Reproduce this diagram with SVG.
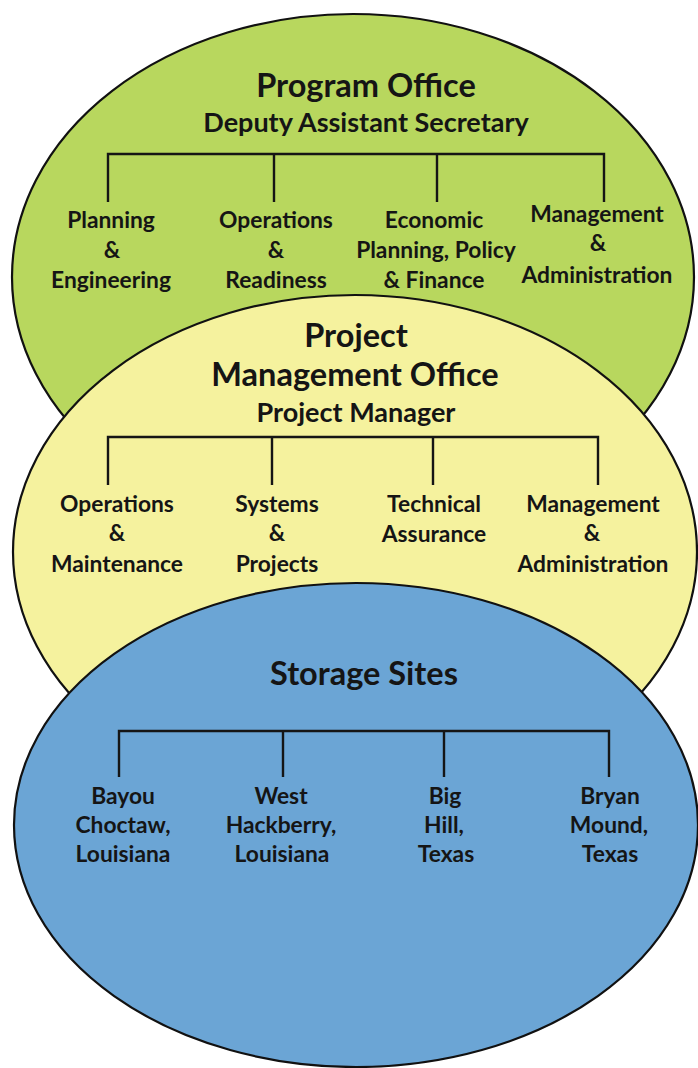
<svg xmlns="http://www.w3.org/2000/svg" width="698" height="1068" viewBox="0 0 698 1068">
<style>
.bg{fill:#ffffff}
.shape{stroke:#111;stroke-width:2.2}
.green{fill:#b8d75e}
.yellow{fill:#f5f29e}
.blue{fill:#6ba5d5}
text{font-family:Lato,"Open Sans","Liberation Sans",sans-serif;font-weight:bold;fill:#151515;text-anchor:middle}
.title{font-size:32.5px}
.sub{font-size:27px}
.lbl{font-size:22.8px}
.conn{fill:none;stroke:#151515;stroke-width:2.4}
</style>
<rect class="bg" x="0" y="0" width="698" height="1068"/>
<g id="program-office">
<ellipse class="shape green" cx="353" cy="277" rx="341" ry="263"/>
<text class="title" x="366" y="97">Program Office</text>
<text class="sub" x="366" y="132">Deputy Assistant Secretary</text>
<text class="lbl" x="111" y="228">Planning</text>
<text class="lbl" x="112" y="258">&amp;</text>
<text class="lbl" x="111" y="288">Engineering</text>
<text class="lbl" x="276" y="228">Operations</text>
<text class="lbl" x="276" y="258">&amp;</text>
<text class="lbl" x="276" y="288">Readiness</text>
<text class="lbl" x="434" y="228">Economic</text>
<text class="lbl" x="436" y="258">Planning, Policy</text>
<text class="lbl" x="434" y="288">&amp; Finance</text>
<text class="lbl" x="597" y="222">Management</text>
<text class="lbl" x="598" y="251">&amp;</text>
<text class="lbl" x="597" y="283">Administration</text>
</g>
<g id="project-management-office">
<ellipse class="shape yellow" cx="355" cy="552" rx="342" ry="257"/>
<text class="title" x="356" y="347">Project</text>
<text class="title" x="355" y="386">Management Office</text>
<text class="sub" x="356" y="422">Project Manager</text>
<text class="lbl" x="117" y="512">Operations</text>
<text class="lbl" x="117" y="541">&amp;</text>
<text class="lbl" x="117" y="572">Maintenance</text>
<text class="lbl" x="277" y="512">Systems</text>
<text class="lbl" x="277" y="541">&amp;</text>
<text class="lbl" x="277" y="572">Projects</text>
<text class="lbl" x="434" y="512">Technical</text>
<text class="lbl" x="434" y="542">Assurance</text>
<text class="lbl" x="593" y="512">Management</text>
<text class="lbl" x="592" y="541">&amp;</text>
<text class="lbl" x="593" y="572">Administration</text>
</g>
<g id="storage-sites">
<ellipse class="shape blue" cx="356" cy="825" rx="342" ry="242"/>
<text class="title" x="364" y="685">Storage Sites</text>
<text class="lbl" x="123" y="804">Bayou</text>
<text class="lbl" x="123" y="833">Choctaw,</text>
<text class="lbl" x="123" y="862">Louisiana</text>
<text class="lbl" x="281" y="804">West</text>
<text class="lbl" x="281" y="833">Hackberry,</text>
<text class="lbl" x="282" y="862">Louisiana</text>
<text class="lbl" x="445" y="804">Big</text>
<text class="lbl" x="444" y="833">Hill,</text>
<text class="lbl" x="446" y="862">Texas</text>
<text class="lbl" x="610" y="804">Bryan</text>
<text class="lbl" x="609" y="833">Mound,</text>
<text class="lbl" x="610" y="862">Texas</text>
</g>
<g id="connectors">
<path class="conn" d="M108,202 V154 H604 V202 M274,154 V202 M437,154 V202"/>
<path class="conn" d="M108,485 V437 H598 V485 M272,437 V485 M433,437 V485"/>
<path class="conn" d="M119,777 V731 H609 V777 M283,731 V777 M444,731 V777"/>
</g>
</svg>
